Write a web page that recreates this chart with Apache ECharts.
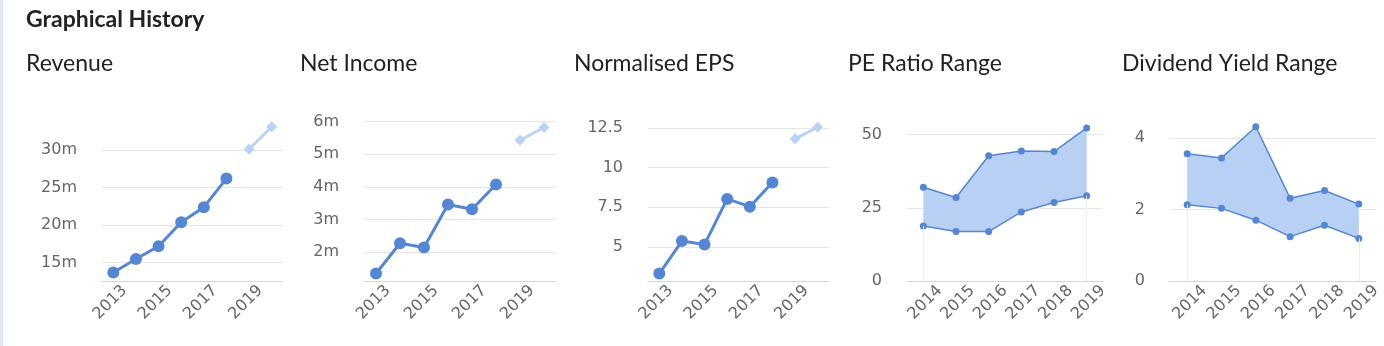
<!DOCTYPE html>
<html><head><meta charset="utf-8">
<script src="https://cdn.jsdelivr.net/npm/echarts@6/dist/echarts.min.js"></script>
<style>
html,body{margin:0;padding:0;background:#fff;overflow:hidden}
#c{position:absolute;left:0;top:0;width:1384px;height:346px}
#edge{position:absolute;left:0;top:0;width:3px;height:346px;background:#e4e7f5}
</style></head><body>
<div id="c"></div><div id="edge"></div>
<script>
// ---- data ----
const pageTitle = 'Graphical History';
const panelTitles = ['Revenue', 'Net Income', 'Normalised EPS', 'PE Ratio Range', 'Dividend Yield Range'];
const lineYears = ['2013', '2014', '2015', '2016', '2017', '2018', '2019', '2020'];
const rangeYears = ['2014', '2015', '2016', '2017', '2018', '2019'];
const revenueActual = [13.7, 15.5, 17.2, 20.4, 22.4, 26.2, null, null];
const revenueForecast = [null, null, null, null, null, null, 30.1, 33.1];
const netIncomeActual = [1.34, 2.27, 2.14, 3.46, 3.31, 4.07, null, null];
const netIncomeForecast = [null, null, null, null, null, null, 5.43, 5.82];
const epsActual = [3.31, 5.36, 5.15, 8.02, 7.53, 9.06, null, null];
const epsForecast = [null, null, null, null, null, null, 11.81, 12.54];
const peHigh = [32.0, 28.5, 42.8, 44.4, 44.2, 52.3];
const peLow = [18.8, 16.9, 16.9, 23.6, 26.8, 29.1];
const divHigh = [3.56, 3.44, 4.31, 2.31, 2.53, 2.15];
const divLow = [2.13, 2.03, 1.70, 1.24, 1.56, 1.19];

// ---- layout / style ----
const MAIN = '#5586d1', LIGHT = '#b9d2f6', FILL = '#b8d0f4';
const TFONT = 'Lato, "Open Sans", sans-serif';
const LFONT = '"DejaVu Sans", Verdana, sans-serif';
const panels = [
  {kind: 'line', cats: lineYears, actual: revenueActual, forecast: revenueForecast, left: 102, width: 181, min: 12.57, max: 34, step: 5, suffix: 'm', every: 2},
  {kind: 'line', cats: lineYears, actual: netIncomeActual, forecast: netIncomeForecast, left: 364, width: 192, min: 1.11, max: 6.05, step: 1, suffix: 'm', every: 2},
  {kind: 'line', cats: lineYears, actual: epsActual, forecast: epsForecast, left: 648, width: 181, min: 2.84, max: 13, step: 2.5, suffix: '', every: 2},
  {kind: 'range', cats: rangeYears, high: peHigh, low: peLow, left: 907, width: 196, min: 0, max: 55, step: 25, suffix: '', every: 1},
  {kind: 'range', cats: rangeYears, high: divHigh, low: divLow, left: 1170, width: 206, min: 0, max: 4.5, step: 2, suffix: '', every: 1}
];

const titles = [{text: pageTitle, left: 26, top: 8, padding: 0,
  textStyle: {fontFamily: TFONT, fontWeight: 'bold', fontSize: 23, lineHeight: 23, color: '#222'}}];
panelTitles.forEach((t, i) => titles.push({text: t, left: 26 + 274 * i, top: 52, padding: 0,
  textStyle: {fontFamily: TFONT, fontWeight: 'normal', fontSize: 23, lineHeight: 23, color: '#222'}}));

const grids = [], xAxes = [], yAxes = [], series = [];
panels.forEach((p, i) => {
  grids.push({left: p.left, width: p.width, top: 120, bottom: 65});
  xAxes.push({type: 'category', gridIndex: i, data: p.cats, boundaryGap: true, show: false, position: 'bottom'});
  xAxes.push({type: 'category', gridIndex: i, data: [''].concat(p.cats), boundaryGap: false, position: 'bottom',
    axisLine: {onZero: false, lineStyle: {color: '#ccd6eb', width: 1}},
    axisTick: {show: false}, splitLine: {show: false},
    axisLabel: {rotate: 45, color: '#666', fontSize: 16, fontFamily: LFONT, margin: 7,
      interval: (idx) => idx >= 1 && (idx - 1) % p.every === 0}});
  yAxes.push({type: 'value', gridIndex: i, min: p.min, max: p.max, minInterval: p.step, maxInterval: p.step,
    axisLine: {show: false}, axisTick: {show: false},
    splitLine: {show: true, showMinLine: false, showMaxLine: false, lineStyle: {color: '#e6e6e6', width: 1}},
    axisLabel: {color: '#666', fontSize: 16, fontFamily: LFONT, margin: 25,
      showMinLabel: p.min === 0, showMaxLabel: false,
      formatter: (v) => String(+v.toFixed(2)) + p.suffix}});
  const xi = 2 * i;
  if (p.kind === 'line') {
    series.push({type: 'line', xAxisIndex: xi, yAxisIndex: i, data: p.actual, symbol: 'circle', symbolSize: 12,
      lineStyle: {color: MAIN, width: 3}, itemStyle: {color: MAIN}, connectNulls: false, z: 3});
    series.push({type: 'line', xAxisIndex: xi, yAxisIndex: i, data: p.forecast, symbol: 'diamond', symbolSize: 11,
      lineStyle: {color: LIGHT, width: 3}, itemStyle: {color: LIGHT}, connectNulls: false, z: 3});
  } else {
    const stack = 'r' + i;
    const n = p.cats.length - 1;
    series.push({type: 'line', xAxisIndex: xi, yAxisIndex: i, data: p.low, stack: stack, symbol: 'circle', symbolSize: 7,
      lineStyle: {color: MAIN, width: 1.5}, itemStyle: {color: MAIN}, z: 4,
      markLine: {silent: true, symbol: 'none', label: {show: false}, lineStyle: {color: '#eceef7', width: 1, type: 'solid'},
        data: [[{coord: [p.cats[0], 0]}, {coord: [p.cats[0], p.low[0]]}],
               [{coord: [p.cats[n], 0]}, {coord: [p.cats[n], p.low[n]]}]]}});
    series.push({type: 'line', xAxisIndex: xi, yAxisIndex: i, data: p.high.map((h, k) => +(h - p.low[k]).toFixed(3)),
      stack: stack, symbol: 'circle', symbolSize: 7,
      lineStyle: {color: MAIN, width: 1.5}, itemStyle: {color: MAIN}, areaStyle: {color: FILL, opacity: 1}, z: 3});
  }
});

const chart = echarts.init(document.getElementById('c'), null, {renderer: 'canvas'});
chart.setOption({animation: false, backgroundColor: '#fff', title: titles, grid: grids,
  xAxis: xAxes, yAxis: yAxes, series: series});
</script>
</body></html>
